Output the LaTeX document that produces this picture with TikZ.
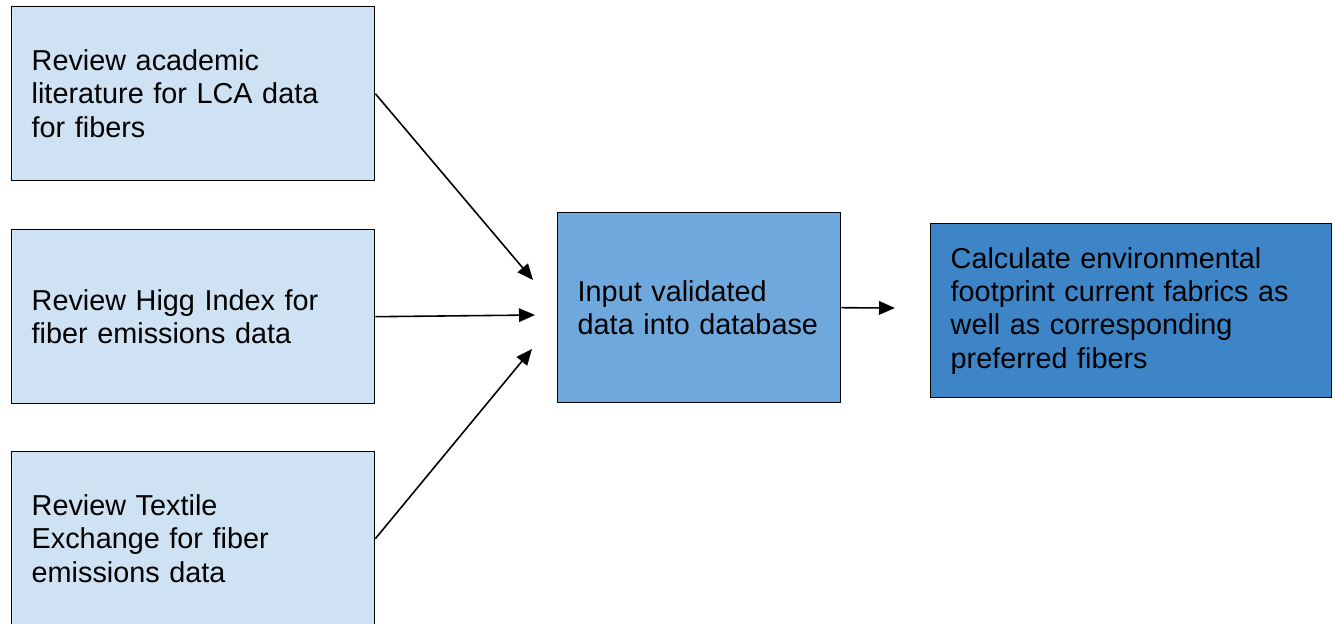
\documentclass[tikz,border=0pt]{standalone}
\usepackage{fontspec}
\setmainfont{Liberation Sans}
\usepackage{xcolor}
\usetikzlibrary{arrows.meta}

\definecolor{fiberpale}{HTML}{CFE2F3}
\definecolor{fibermid}{HTML}{6FA8DC}
\definecolor{fiberdeep}{HTML}{3D85C6}

\begin{document}
\begin{tikzpicture}[x=0.02cm, y=-0.02cm,
  stepbox/.style={draw=black, line width=0.8pt, anchor=north west,
    inner xsep=0.4cm, align=left, font=\fontsize{16.4}{19}\selectfont},
  flow/.style={-{Triangle[length=0.32cm, width=0.27cm]}, line width=0.9pt}]
  \useasboundingbox (0, 0) rectangle (1335, 623);
  \clip (0, 0) rectangle (1335, 623);

  % Review sources
  \node[stepbox, fill=fiberpale, text width=6.46cm, minimum height=3.48cm]
    (lit) at (11, 6) {Review academic\\literature for LCA data\\for fibers};
  \node[stepbox, fill=fiberpale, text width=6.46cm, minimum height=3.48cm]
    (higg) at (11, 229) {Review Higg Index for\\fiber emissions data};
  \node[stepbox, fill=fiberpale, text width=6.46cm, minimum height=3.48cm]
    (textile) at (11, 451) {Review Textile\\Exchange for fiber\\emissions data};

  % Database and result
  \node[stepbox, fill=fibermid, text width=4.86cm, minimum height=3.8cm]
    (db) at (557, 212) {Input validated\\data into database};
  \node[stepbox, fill=fiberdeep, text width=7.22cm, minimum height=3.48cm]
    (calc) at (930, 223) {Calculate environmental\\footprint current fabrics as\\well as corresponding\\preferred fibers};

  % Arrow ends
  \coordinate (litend) at (533, 280);
  \coordinate (higgend) at (535, 315);
  \coordinate (textileend) at (532, 349);
  \coordinate (calcend) at (895, 308);

  \draw[flow] (lit.east) -- (litend);
  \draw[flow] (higg.east) -- (higgend);
  \draw[flow] (textile.east) -- (textileend);
  \draw[flow] (db.east) -- (calcend);
\end{tikzpicture}
\end{document}
